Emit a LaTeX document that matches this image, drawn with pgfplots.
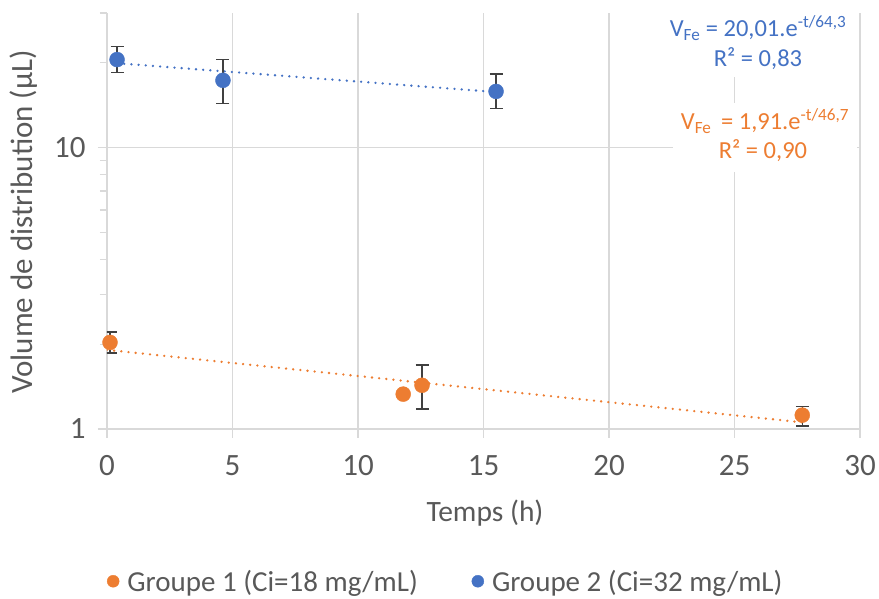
\documentclass[border=0pt]{standalone}
\usepackage{fontspec}
\setmainfont{Carlito}
\usepackage{pgfplots}
\pgfplotsset{compat=1.18}
\definecolor{txt}{HTML}{595959}
\definecolor{grd}{HTML}{D9D9D9}
\definecolor{org}{HTML}{ED7D31}
\definecolor{blu}{HTML}{4472C4}
\definecolor{errc}{HTML}{404040}

\pgfplotstableread{
x y ep em
0.12 2.03 0.18 0.17
11.8 1.33 0.02 0.02
12.55 1.43 0.26 0.25
27.7 1.12 0.08 0.095
}\groupA
\pgfplotstableread{
x y ep em
0.4 20.5 2.3 2.05
4.62 17.3 3.2 3.0
15.5 15.8 2.4 2.05
}\groupB

\begin{document}
\begin{tikzpicture}
\begin{axis}[
  scale only axis, width=753pt, height=416pt,
  xmin=0, xmax=30, ymin=1, ymax=30, ymode=log,
  xtick={0,5,...,30},
  ytick={1,10}, yticklabels={1,10},
  minor ytick={2,3,4,5,6,7,8,9,20,30},
  grid=major, major grid style={grd, line width=1.3pt},
  axis x line*=bottom, axis y line*=left,
  axis line style={grd, line width=1.3pt, -},
  tick style={grd, line width=1.3pt},
  tick align=outside, major tick length=9pt, minor tick length=7pt,
  ticklabel style={font=\fontsize{31}{33}\selectfont, text=txt},
  xticklabel style={yshift=-14pt},
  yticklabel style={xshift=-9pt},
  /pgf/number format/assume math mode=true,
  legend style={at={(0.450,-0.366)}, anchor=center, draw=none, fill=none,
    font=\fontsize{29}{31}\selectfont, text=txt,
    /tikz/every even column/.append style={column sep=52pt}},
  legend columns=2,
  legend image code/.code={\draw[#1, mark size=6pt] plot coordinates {(0pt,0pt)}; \path (12pt,0pt);},
]
\addplot[org, line width=2.6pt, line cap=round, dash pattern=on 0pt off 7.2pt, forget plot]
  coordinates {(0,1.91) (27.7,1.056)};
\addplot[blu, line width=2.6pt, line cap=round, dash pattern=on 0pt off 7.2pt, forget plot]
  coordinates {(0.4,19.9) (15.5,15.72)};
\addplot[only marks, mark=*, mark size=7.5pt, color=org, mark options={draw=org, fill=org},
  error bars/.cd, y dir=both, y explicit,
  error bar style={errc, line width=1.5pt},
  error mark options={errc, line width=1.5pt, mark size=6.5pt, rotate=90}]
  table[x=x, y=y, y error plus=ep, y error minus=em] {\groupA};
\addlegendentry{Groupe 1 (Ci=18 mg/mL)}
\addplot[only marks, mark=*, mark size=7.5pt, color=blu, mark options={draw=blu, fill=blu},
  error bars/.cd, y dir=both, y explicit,
  error bar style={errc, line width=1.5pt},
  error mark options={errc, line width=1.5pt, mark size=6.5pt, rotate=90}]
  table[x=x, y=y, y error plus=ep, y error minus=em] {\groupB};
\addlegendentry{Groupe 2 (Ci=32 mg/mL)}
\end{axis}
% label boxes (white background)
\fill[white] (558pt,352pt) rectangle (745pt,429pt);
\fill[white] (566pt,257pt) rectangle (750pt,326pt);
\begin{scope}[every node/.style={font=\fontsize{24.5}{27}\selectfont, inner sep=0pt, anchor=base}]
\node[text=blu] at (651pt,392pt) {V\textsubscript{Fe} = 20,01.e\textsuperscript{-t/64,3}};
\node[text=blu] at (651pt,362pt) {R² = 0,83};
\node[text=org] at (658pt,299pt) {V\textsubscript{Fe}\, = 1,91.e\textsuperscript{-t/46,7}};
\node[text=org] at (656pt,270pt) {R² = 0,90};
\end{scope}
\node[font=\fontsize{29.5}{31}\selectfont, text=txt, anchor=base, inner sep=0pt] at (378pt,-92pt) {Temps (h)};
\node[font=\fontsize{31}{33}\selectfont, text=txt, anchor=base, inner sep=0pt, rotate=90] at (-74pt,207pt) {Volume de distribution (µL)};
\pgfresetboundingbox
\path[use as bounding box] (-107pt,-169pt) rectangle (772pt,429pt);
\end{tikzpicture}
\end{document}
